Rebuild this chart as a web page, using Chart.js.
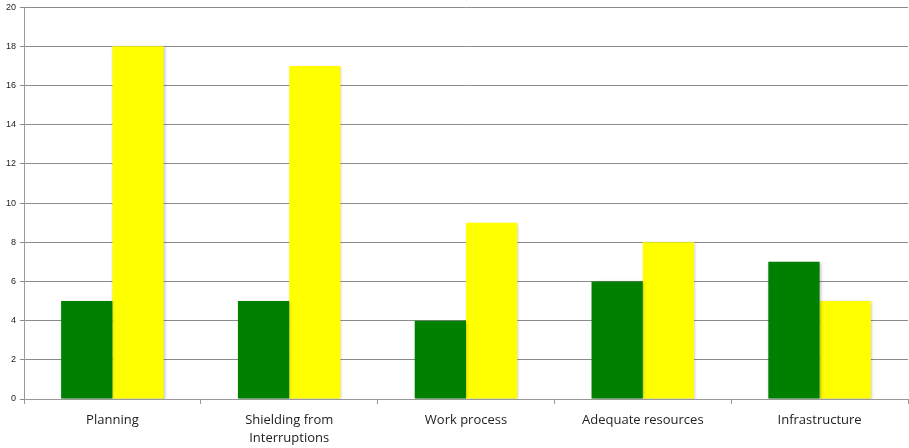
<!DOCTYPE html>
<html>
<head>
<meta charset="utf-8">
<script src="https://cdn.jsdelivr.net/npm/chart.js@4"></script>
<style>
  html, body { margin: 0; padding: 0; background: #fff; }
  #wrap { width: 909px; height: 448px; }
</style>
</head>
<body>
<div id="wrap"><canvas id="chart" width="909" height="448"></canvas></div>
<script>
// categories and the two series
const categories = ["Planning", ["Shielding from", "Interruptions"], "Work process", "Adequate resources", "Infrastructure"];
const greenValues = [5, 5, 4, 6, 7];
const yellowValues = [18, 17, 9, 8, 5];

// soft shadow behind the bars, like the original
const barShadow = {
  id: 'barShadow',
  beforeDatasetsDraw(chart) {
    const ctx = chart.ctx;
    ctx.save();
    ctx.shadowColor = 'rgba(0,0,0,0.25)';
    ctx.shadowBlur = 3;
    ctx.shadowOffsetX = 1;
    ctx.shadowOffsetY = 1;
  },
  afterDatasetsDraw(chart) {
    chart.ctx.restore();
  }
};

new Chart(document.getElementById('chart'), {
  type: 'bar',
  data: {
    labels: categories,
    datasets: [
      { label: 'Series 1', data: greenValues, backgroundColor: '#008000' },
      { label: 'Series 2', data: yellowValues, backgroundColor: '#ffff00' }
    ]
  },
  options: {
    responsive: false,
    animation: false,
    layout: { padding: { top: 0, right: 1, left: 0, bottom: 0 } },
    plugins: {
      legend: { display: false },
      tooltip: { enabled: false }
    },
    datasets: {
      bar: { categoryPercentage: 0.58, barPercentage: 1.0 }
    },
    scales: {
      x: {
        grid: { drawOnChartArea: false, drawTicks: true, tickLength: 5, offset: true, color: '#999' },
        border: { color: '#999', width: 1 },
        ticks: { color: '#222', font: { family: 'Open Sans', size: 13, lineHeight: 1.35 }, padding: 8, maxRotation: 0 },
        afterFit(scale) { scale.height = 49; }
      },
      y: {
        min: 0,
        max: 20,
        ticks: { stepSize: 2, color: '#222', font: { family: 'Liberation Sans', size: 9, lineHeight: 0.7 }, padding: 4 },
        grid: { color: '#8c8c8c', lineWidth: 1, tickLength: 4 },
        border: { color: '#999', width: 1 },
        afterFit(scale) { scale.width = 24; }
      }
    }
  },
  plugins: [barShadow]
});
</script>
</body>
</html>
